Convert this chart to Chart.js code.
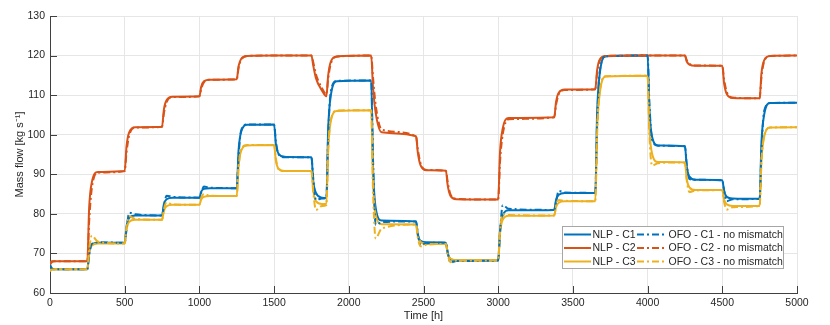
<!DOCTYPE html>
<html>
<head>
<meta charset="utf-8">
<script src="https://cdn.jsdelivr.net/npm/chart.js@4.4.1/dist/chart.umd.min.js"></script>
<style>
  body { margin: 0; background: #fff; }
</style>
</head>
<body>
<canvas id="chart" width="830" height="325"></canvas>
<script>
// time grid [h] - points around every set-point change
const time = [0, 12, 30, 70,
  250, 262, 280, 320,
  500, 512, 530, 570,
  750, 762, 780, 820,
  1000, 1012, 1030, 1070,
  1250, 1262, 1280, 1320,
  1500, 1512, 1530, 1570,
  1750, 1762, 1780, 1820,
  1850, 1862, 1880, 1920,
  2150, 2162, 2180, 2220,
  2450, 2462, 2480, 2520,
  2650, 2662, 2680, 2720,
  3000, 3012, 3030, 3070,
  3375, 3387, 3405, 3445,
  3650, 3662, 3680, 3720,
  4000, 4012, 4030, 4070,
  4250, 4262, 4280, 4320,
  4500, 4512, 4530, 4570,
  4750, 4762, 4780, 4820,
  5000];

const nlpC1 = [66.3, 66, 66, 66,
  66, 70.3, 72.2, 72.7,
  72.7, 76.8, 79, 79.6,
  79.6, 82.4, 83.7, 84.1,
  84.1, 85.6, 86.3, 86.5,
  86.5, 96, 100.8, 102.5,
  102.6, 97.6, 95.2, 94.4,
  94.3, 88.3, 85.3, 84.1,
  84, 101.5, 110, 113.5,
  113.7, 92, 81.5, 78.3,
  78.1, 74.8, 73.2, 72.8,
  72.7, 70, 68.6, 68.2,
  68.2, 75.8, 79.6, 80.9,
  81, 83.5, 84.8, 85.3,
  85.3, 105.5, 115.5, 119.8,
  120, 106.5, 99.5, 97.3,
  97.1, 92, 89.4, 88.6,
  88.5, 85.8, 84.3, 83.9,
  83.8, 98, 105, 108,
  108.1];

const nlpC2 = [67.8, 68, 68, 68,
  68, 81.5, 88, 90.6,
  90.8, 97, 100.6, 101.9,
  102, 106.3, 108.7, 109.6,
  109.7, 112.1, 113.5, 113.9,
  114, 117.3, 119.2, 119.9,
  120, 120, 120, 120,
  120, 117.5, 114.3, 111.2,
  109.7, 115, 118.5, 119.8,
  120, 112, 105.5, 100.6,
  99.6, 95.5, 92.3, 91.0,
  90.9, 87.2, 84.6, 83.7,
  83.6, 95.5, 101.5, 104.2,
  104.4, 108.2, 110.6, 111.4,
  111.5, 116.3, 119, 119.9,
  120, 120, 120, 120,
  120, 118.5, 117.7, 117.4,
  117.4, 113, 110.3, 109.3,
  109.2, 115.5, 118.8, 119.9,
  120];

const nlpC3 = [65.6, 66, 66, 66,
  66, 70.2, 72, 72.5,
  72.5, 76, 78, 78.5,
  78.5, 80.7, 81.9, 82.3,
  82.3, 83.6, 84.3, 84.5,
  84.5, 92, 96, 97.3,
  97.4, 93.4, 91.4, 90.8,
  90.8, 86, 83.2, 82.5,
  82.5, 96.5, 103.5, 106,
  106.2, 88.5, 79.8, 77.4,
  77.3, 74.4, 72.9, 72.4,
  72.4, 70, 68.7, 68.3,
  68.3, 75, 78.5, 79.5,
  79.6, 81.7, 82.8, 83.2,
  83.2, 101.5, 110.5, 114.7,
  114.9, 101.5, 95.2, 93.1,
  93, 88.8, 86.7, 86,
  86, 83.6, 82.4, 82,
  82, 93.5, 99.5, 101.8,
  101.9];

const ofoC1 = [67.2, 66.3, 66, 66,
  66, 69.5, 72.4, 72.8,
  72.7, 76, 80.3, 79.9,
  79.6, 81.8, 84.6, 84.3,
  84.1, 85.3, 86.9, 86.6,
  86.5, 94.5, 101.2, 102.6,
  102.6, 98.3, 95, 94.3,
  94.3, 89, 83.5, 83.9,
  84, 100, 111, 113.6,
  113.7, 94, 77.2, 77.9,
  78.1, 75, 72.1, 72.6,
  72.7, 70.3, 67.7, 68.1,
  68.2, 75, 82.2, 81.3,
  81, 83, 85.8, 85.4,
  85.3, 103, 116, 119.8,
  120, 108, 98.8, 97.2,
  97.1, 92.5, 88.8, 88.6,
  88.5, 86, 83.2, 83.7,
  83.8, 96, 106, 108,
  108.1];

const ofoC2 = [67.2, 67.8, 68, 68,
  68, 78, 86.5, 90.4,
  90.8, 95.5, 99.8, 101.8,
  102, 105.3, 108.2, 109.5,
  109.7, 111.6, 113.2, 113.9,
  114, 116.8, 119, 119.9,
  120, 120, 120, 120,
  120, 118.3, 115.3, 111.8,
  110.2, 114.2, 118, 119.7,
  120, 114.5, 107.5, 101.3,
  99.6, 96.3, 92.8, 91.1,
  90.9, 88, 85, 83.8,
  83.6, 93, 100, 103.9,
  104.4, 107.5, 110.2, 111.3,
  111.5, 115.5, 118.7, 119.9,
  120, 120, 120, 120,
  120, 118.8, 117.9, 117.5,
  117.4, 114, 110.8, 109.4,
  109.2, 114.5, 118.5, 119.9,
  120];

const ofoC3 = [65.5, 65.9, 66, 66,
  66, 71, 74.5, 73,
  72.5, 76.5, 79.4, 78.7,
  78.5, 81, 82.9, 82.4,
  82.3, 84, 85, 84.6,
  84.5, 91.5, 96.5, 97.4,
  97.4, 94, 91.2, 90.8,
  90.8, 85.5, 81, 82,
  82.2, 96, 103.8, 106.1,
  106.2, 86, 73.8, 76.3,
  77.3, 74, 71.8, 72.2,
  72.4, 69.8, 67.8, 68.2,
  68.3, 75.5, 79.9, 79.7,
  79.6, 82, 83.5, 83.3,
  83.2, 100, 111, 114.8,
  114.9, 100, 92.2, 92.8,
  93, 88.5, 85.5, 85.9,
  86, 83, 81.1, 81.7,
  82, 93, 99.8, 101.8,
  101.9];

const labels = ['NLP - C1', 'NLP - C2', 'NLP - C3',
  'OFO - C1 - no mismatch', 'OFO - C2 - no mismatch', 'OFO - C3 - no mismatch'];

const blue = '#0072BD', orange = '#D95319', yellow = '#EDB120';
const dashDot = [7, 3, 2, 3];
const FONT = '"Liberation Sans", Arial, Helvetica, sans-serif';
const TEXT = '#262626';

const toXY = vals => vals.map((v, i) => ({ x: time[i], y: v }));

function series(label, vals, color, dash, i) {
    return {
        label: label,
        data: toXY(vals),
        borderColor: color,
        backgroundColor: color,
        borderWidth: 2,
        borderDash: dash,
        pointRadius: 0,
        cubicInterpolationMode: 'monotone',
        fill: false,
        order: 5 - i   // later series drawn on top, like MATLAB
    };
}

// inward tick marks + legend box in the lower right corner
const matlabBits = {
    id: 'matlabBits',
    afterDraw(chart) {
        const { ctx, chartArea: a, scales: { x, y } } = chart;
        ctx.save();
        ctx.strokeStyle = '#404040';
        ctx.lineWidth = 1;
        ctx.setLineDash([]);
        ctx.beginPath();
        x.ticks.forEach(t => {
            const px = Math.round(x.getPixelForValue(t.value)) + 0.5;
            ctx.moveTo(px, a.bottom);
            ctx.lineTo(px, a.bottom - 7);
        });
        y.ticks.forEach(t => {
            const py = Math.round(y.getPixelForValue(t.value)) + 0.5;
            ctx.moveTo(a.left, py);
            ctx.lineTo(a.left + 7, py);
        });
        ctx.stroke();

        // legend
        const box = { l: 562, t: 226, r: 783, b: 268 };
        ctx.fillStyle = '#fff';
        ctx.fillRect(box.l, box.t, box.r - box.l, box.b - box.t);
        ctx.strokeStyle = '#a6a6a6';
        ctx.strokeRect(box.l + 0.5, box.t + 0.5, box.r - box.l, box.b - box.t);

        const rows = [234.5, 248, 261.5];
        const cols = [{ x0: 564, x1: 591, tx: 592.5 }, { x0: 637, x1: 667, tx: 668.5 }];
        ctx.font = '10.5px ' + FONT;
        ctx.textBaseline = 'middle';
        ctx.textAlign = 'left';
        chart.data.datasets.forEach((ds, i) => {
            const c = cols[Math.floor(i / 3)];
            const ry = rows[i % 3];
            ctx.strokeStyle = ds.borderColor;
            ctx.lineWidth = 2;
            ctx.setLineDash(ds.borderDash);
            ctx.beginPath();
            ctx.moveTo(c.x0, ry);
            ctx.lineTo(c.x1, ry);
            ctx.stroke();
            ctx.fillStyle = TEXT;
            ctx.fillText(ds.label, c.tx, ry + 0.5);
        });
        ctx.restore();
    }
};

const ctx = document.getElementById('chart').getContext('2d');

const chart = new Chart(ctx, {
    type: 'line',
    data: {
        datasets: [
            series(labels[0], nlpC1, blue, [], 0),
            series(labels[1], nlpC2, orange, [], 1),
            series(labels[2], nlpC3, yellow, [], 2),
            series(labels[3], ofoC1, blue, dashDot, 3),
            series(labels[4], ofoC2, orange, dashDot, 4),
            series(labels[5], ofoC3, yellow, dashDot, 5)
        ]
    },
    options: {
        responsive: false,
        animation: false,
        layout: { padding: { top: 16, right: 33, left: 0, bottom: 0 } },
        plugins: {
            legend: { display: false },
            tooltip: { enabled: false }
        },
        scales: {
            x: {
                type: 'linear',
                min: 0,
                max: 5000,
                ticks: {
                    stepSize: 500,
                    color: TEXT,
                    font: { family: FONT, size: 10.5 },
                    padding: 4,
                    maxRotation: 0,
                    callback: v => String(v)
                },
                grid: { color: '#e6e6e6', drawTicks: false },
                border: { color: '#404040' },
                title: {
                    display: true,
                    text: 'Time [h]',
                    color: TEXT,
                    font: { family: FONT, size: 11 },
                    padding: { top: 0, bottom: 2 }
                },
                afterFit(scale) { scale.height = 32; }
            },
            y: {
                min: 60,
                max: 130,
                ticks: {
                    stepSize: 10,
                    color: TEXT,
                    font: { family: FONT, size: 10.5 },
                    padding: 5
                },
                grid: { color: '#e6e6e6', drawTicks: false },
                border: { color: '#404040' },
                title: {
                    display: true,
                    text: 'Mass flow [kg s\u207B\u00B9]',
                    color: TEXT,
                    font: { family: FONT, size: 11 },
                    padding: { top: 13, bottom: 0 }
                },
                afterFit(scale) { scale.width = 50; }
            }
        }
    },
    plugins: [matlabBits]
});
</script>
</body>
</html>
